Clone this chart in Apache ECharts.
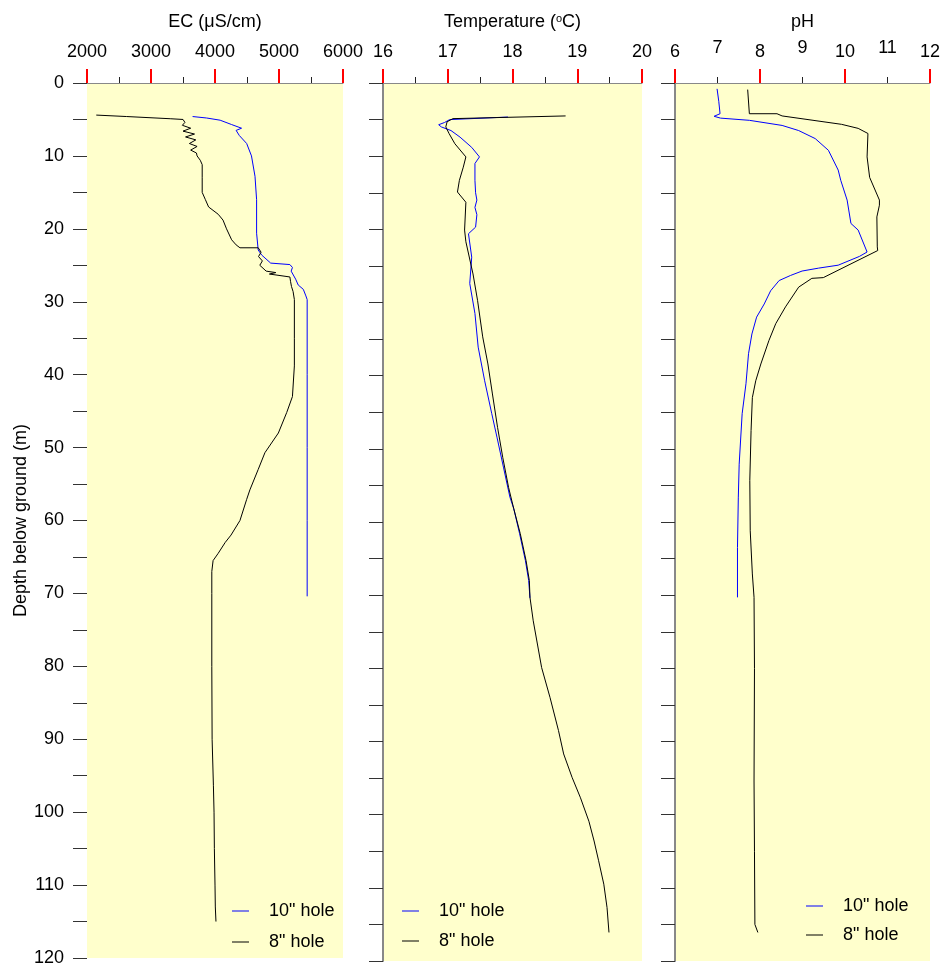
<!DOCTYPE html>
<html>
<head>
<meta charset="utf-8">
<title>Borehole logs</title>
<script src="https://cdn.jsdelivr.net/npm/echarts@6/dist/echarts.min.js"></script>
<style>
  html, body { margin: 0; padding: 0; background: #fff; }
  #chart { width: 943px; height: 967px; }
</style>
</head>
<body>
<div id="chart"></div>
<script>
// depths in m below ground, values
var ecDepth10 = [4.6, 4.8, 5.1, 5.7, 6.2, 6.5, 6.7, 7.2, 8.3, 10.0, 12.8, 16.0, 20.6, 22.9, 23.6, 24.7, 24.9, 24.9, 25.3, 25.8, 26.9, 27.7, 28.3, 29.2, 29.7, 40, 50, 60, 70.4];
var ecValue10 = [3650, 3870, 4080, 4260, 4415, 4330, 4310, 4380, 4495, 4570, 4625, 4650, 4650, 4675, 4730, 4870, 4880, 5170, 5210, 5190, 5260, 5300, 5380, 5420, 5440, 5440, 5440, 5440, 5440];

var ecDepth8 = [4.4, 4.6, 4.9, 5.0, 5.4, 5.8, 6.2, 6.6, 7.0, 7.4, 7.8, 8.3, 8.7, 9.2, 9.6, 10.0, 10.6, 11.2, 13.0, 15.0, 16.0, 17.0, 18.0, 18.8, 20.0, 21.5, 22.2, 22.6, 22.6, 23.2, 23.8, 24.4, 25.0, 25.8, 26.0, 26.2, 26.6, 27.2, 27.9, 28.6, 29.7, 35, 38.8, 43, 45.2, 48, 50.7, 53, 55.8, 57.1, 60, 62, 63, 64.5, 65.5, 67, 70, 80, 90, 96.3, 100, 105, 110, 113, 115];
var ecValue8 = [2145, 2620, 3300, 3500, 3530, 3490, 3620, 3500, 3680, 3540, 3700, 3600, 3720, 3620, 3710, 3720, 3770, 3800, 3800, 3800, 3850, 3900, 4050, 4125, 4180, 4260, 4330, 4390, 4675, 4720, 4680, 4740, 4700, 4800, 4950, 4850, 5170, 5180, 5195, 5220, 5240, 5240, 5240, 5210, 5120, 4990, 4780, 4675, 4545, 4495, 4390, 4250, 4160, 4050, 3970, 3950, 3950, 3950, 3955, 3975, 3985, 3990, 4000, 4005, 4015];

var tDepth10 = [4.65, 5.0, 5.4, 5.7, 6.0, 6.5, 7.4, 8.8, 10.1, 11.0, 13.3, 15.0, 16.0, 17, 18, 19.7, 20.6, 23.8, 27.4, 31.5, 36.1, 40.7, 45.2, 48.4, 52.5, 56.6, 58.2, 61.6, 65.3, 68.0, 70.4];
var tValue10 = [17.93, 17.03, 16.95, 16.86, 16.9, 17.05, 17.19, 17.37, 17.49, 17.42, 17.42, 17.43, 17.45, 17.42, 17.45, 17.43, 17.32, 17.37, 17.34, 17.42, 17.47, 17.57, 17.68, 17.76, 17.86, 17.96, 18.02, 18.11, 18.20, 18.25, 18.27];

var tDepth8 = [4.5, 4.87, 5.3, 6.0, 6.9, 8.3, 10.1, 11.5, 13.3, 14.9, 16.3, 20.1, 21.7, 26.1, 29.7, 34.7, 38.4, 42.5, 47.1, 51.2, 55.3, 58.2, 61.6, 65.3, 68.0, 70.3, 73.5, 79.9, 84.0, 88.5, 91.7, 94.9, 97.7, 100.9, 103.6, 106.3, 109.5, 112.7, 116.1];
var tValue8 = [18.82, 17.08, 16.99, 16.97, 17.02, 17.11, 17.28, 17.24, 17.18, 17.15, 17.28, 17.26, 17.28, 17.39, 17.46, 17.54, 17.62, 17.69, 17.77, 17.85, 17.94, 18.02, 18.12, 18.21, 18.26, 18.27, 18.32, 18.45, 18.58, 18.71, 18.79, 18.92, 19.05, 19.18, 19.26, 19.33, 19.41, 19.46, 19.49];

var phDepth10 = [0.8, 2.5, 4.2, 4.55, 4.8, 5.1, 5.8, 6.5, 7.6, 9.2, 11.9, 13.3, 16.0, 19.2, 20.1, 23.1, 23.7, 24.9, 25.3, 25.7, 26.3, 27.0, 28.4, 30.2, 32.0, 34.3, 37.0, 41.1, 45.2, 52.1, 56.6, 63.5, 70.3];
var phValue10 = [6.99, 7.03, 7.06, 6.92, 7.07, 7.75, 8.52, 8.91, 9.30, 9.61, 9.84, 9.90, 10.05, 10.14, 10.31, 10.52, 10.34, 9.84, 9.38, 8.99, 8.72, 8.45, 8.25, 8.10, 7.92, 7.81, 7.73, 7.67, 7.58, 7.51, 7.49, 7.47, 7.47];

var phDepth8 = [0.9, 4.2, 4.2, 4.5, 5.65, 6.2, 6.9, 10.1, 12.9, 16.0, 16.7, 18.3, 22.4, 22.9, 26.6, 26.7, 27.9, 30.6, 32.9, 35.2, 38.4, 40.7, 43.0, 47.5, 54.3, 61.2, 67.1, 70.3, 80, 95.4, 105, 115.0, 116.1];
var phValue8 = [7.71, 7.75, 8.4, 8.52, 9.92, 10.31, 10.54, 10.52, 10.58, 10.81, 10.81, 10.75, 10.76, 10.77, 9.49, 9.22, 8.91, 8.60, 8.37, 8.21, 8.02, 7.90, 7.82, 7.79, 7.76, 7.77, 7.82, 7.86, 7.87, 7.86, 7.87, 7.88, 7.95];

var holeNames = ['10" hole', '8" hole'];
var holeColors = ['#0000ff', '#000000'];

var FONT = '"Liberation Sans", Arial, sans-serif';

function pairs(vals, depths) {
  return vals.map(function (v, i) { return [v, depths[i]]; });
}

var grids = [
  { left: 87, top: 83, width: 256, height: 878 },
  { left: 383, top: 83, width: 259, height: 878 },
  { left: 675, top: 83, width: 258, height: 878 }
].map(function (g) {
  g.show = true;
  g.backgroundColor = '#ffffcc';
  g.borderWidth = 0;
  return g;
});

// top axis: line, long ticks, short ticks, labels, title
function topAxis(gi, name, min, max, interval) {
  return {
    type: 'value', gridIndex: gi, position: 'top', min: min, max: max, interval: interval,
    name: name, nameLocation: 'middle', nameGap: 52,
    nameTextStyle: { fontSize: 18, color: '#000', fontFamily: FONT,
      rich: { sup: { fontSize: 11, verticalAlign: 'top', fontFamily: FONT, color: '#000' } } },
    axisLine: { show: true, onZero: false, lineStyle: { color: '#888', width: 1 } },
    axisTick: { show: true, length: 14, lineStyle: { color: '#ff0000', width: 2 } },
    minorTick: { show: true, splitNumber: 2, length: 6, lineStyle: { color: '#222', width: 1 } },
    axisLabel: { fontSize: 18, color: '#000', fontFamily: FONT, margin: 22,
      formatter: function (v) { return String(v); } },
    splitLine: { show: false },
    minorSplitLine: { show: false }
  };
}

var xAxes = [
  topAxis(0, 'EC (μS/cm)', 2000, 6000, 1000),
  topAxis(1, 'Temperature ({sup|o}C)', 16, 20, 1),
  topAxis(2, 'pH', 6, 12, 2)
];
// odd pH labels sit a little higher
xAxes.push({
  type: 'value', gridIndex: 2, position: 'top', min: 6, max: 12, interval: 1,
  axisLine: { show: false, onZero: false }, axisTick: { show: false }, splitLine: { show: false },
  axisLabel: { fontSize: 18, color: '#000', fontFamily: FONT, margin: 26,
    formatter: function (v) { return v % 2 === 1 ? String(v) : ''; } }
});

var yAxes = [0, 1, 2].map(function (i) {
  return {
    type: 'value', gridIndex: i, inverse: true, min: 0, max: 120, interval: 5,
    name: i === 0 ? 'Depth below ground (m)' : '',
    nameLocation: 'middle', nameGap: 51, nameRotate: 90,
    nameTextStyle: { fontSize: 18, color: '#000', fontFamily: FONT },
    axisLine: { show: i > 0, onZero: false, lineStyle: { color: '#888', width: 2 } },
    axisTick: { show: true, length: 14, lineStyle: { color: '#333', width: 1 } },
    axisLabel: { show: i === 0, fontSize: 18, color: '#000', fontFamily: FONT, margin: 23,
      formatter: function (v) { return v % 10 === 0 ? String(v) : ''; } },
    splitLine: { show: false }
  };
});

function line(name, color, xi, data) {
  return {
    type: 'line', name: name, xAxisIndex: xi, yAxisIndex: xi,
    data: data, showSymbol: false, symbol: 'none',
    lineStyle: { color: color, width: 1 }, itemStyle: { color: color }
  };
}

var series = [
  line(holeNames[0], holeColors[0], 0, pairs(ecValue10, ecDepth10)),
  line(holeNames[1], holeColors[1], 0, pairs(ecValue8, ecDepth8)),
  line(holeNames[0], holeColors[0], 1, pairs(tValue10, tDepth10)),
  line(holeNames[1], holeColors[1], 1, pairs(tValue8, tDepth8)),
  line(holeNames[0], holeColors[0], 2, pairs(phValue10, phDepth10)),
  line(holeNames[1], holeColors[1], 2, pairs(phValue8, phDepth8))
];

function legendAt(left, top, gap) {
  return {
    orient: 'vertical', left: left, top: top, padding: 0, itemGap: gap,
    icon: 'rect', itemWidth: 17, itemHeight: 1, selectedMode: false,
    data: holeNames,
    textStyle: { fontSize: 18, color: '#000', fontFamily: FONT, lineHeight: 20, padding: [0, 0, 0, 15] }
  };
}

var myChart = echarts.init(document.getElementById('chart'));
myChart.setOption({
  animation: false,
  grid: grids,
  xAxis: xAxes,
  yAxis: yAxes,
  legend: [legendAt(232, 901, 11), legendAt(402, 901, 10), legendAt(806, 896, 9)],
  series: series
});
</script>
</body>
</html>
